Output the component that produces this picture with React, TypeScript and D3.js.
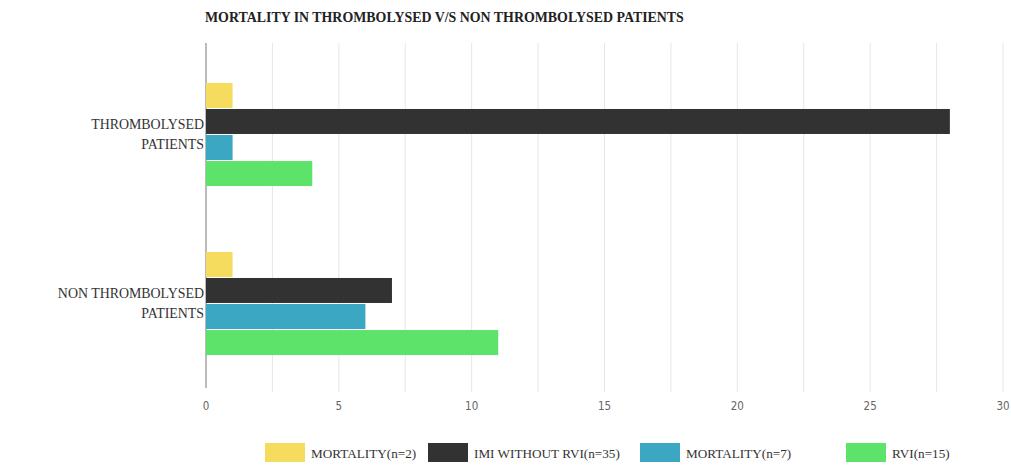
import React from "react";
import * as d3 from "d3";

const categories = ["THROMBOLYSED PATIENTS", "NON THROMBOLYSED PATIENTS"];
const categoryLines = [["THROMBOLYSED", "PATIENTS"], ["NON THROMBOLYSED", "PATIENTS"]];
const seriesNames = ["MORTALITY(n=2)", "IMI WITHOUT RVI(n=35)", "MORTALITY(n=7)", "RVI(n=15)"];
const seriesColors = ["#f6dc5e", "#323232", "#3ba7c3", "#5de26a"];
const mortalityN2 = [1, 1];
const imiWithoutRvi = [28, 7];
const mortalityN7 = [1, 6];
const rvi = [4, 11];
const seriesValues = [mortalityN2, imiWithoutRvi, mortalityN7, rvi];
const xTicks = [0, 5, 10, 15, 20, 25, 30];
const gridTicks = [0, 2.5, 5, 7.5, 10, 12.5, 15, 17.5, 20, 22.5, 25, 27.5, 30];
const title = "MORTALITY IN THROMBOLYSED V/S NON THROMBOLYSED PATIENTS";

export default function App() {
  const W = 1011, H = 466;
  const left = 206, right = 1003, top = 50, bottom = 388;
  const x = d3.scaleLinear().domain([0, 30]).range([left, right]);
  const y = d3.scaleBand<string>().domain(categories).range([top, bottom]).paddingInner(0.39).paddingOuter(0.195);
  const inner = d3.scaleBand<number>().domain([0, 1, 2, 3]).range([0, y.bandwidth()]).paddingInner(0.04);
  const serif = "'Liberation Serif', 'DejaVu Serif', serif";
  const legendX = [265, 428, 640, 846];
  return (
    <svg width={W} height={H} style={{ position: "absolute", left: 0, top: 0, background: "#fff" }}>
      <text x={205} y={17} dominantBaseline="central" fontFamily={serif} fontWeight="bold" fontSize={13.9} fill="#222">{title}</text>
      {gridTicks.map((t) => (
        <line key={t} x1={x(t)} x2={x(t)} y1={43} y2={t === 0 ? bottom : 392} stroke={t === 0 ? "#bbb" : "#e6e6e6"} strokeWidth={t === 0 ? 2 : 1} />
      ))}
      {categories.map((c, ci) =>
        seriesValues.map((vals, si) => (
          <rect key={c + si} x={x(0)} y={(y(c) as number) + (inner(si) as number)} width={x(vals[ci]) - x(0)} height={inner.bandwidth()} fill={seriesColors[si]} />
        ))
      )}
      {categories.map((c, ci) => {
        const cy = (y(c) as number) + y.bandwidth() / 2;
        return categoryLines[ci].map((ln, li) => (
          <text key={c + li} x={204} y={cy - 10 + li * 20} textAnchor="end" dominantBaseline="central" fontFamily={serif} fontSize={13.9} fill="#333">{ln}</text>
        ));
      })}
      {xTicks.map((t) => (
        <text key={t} x={x(t)} y={406} textAnchor="middle" dominantBaseline="central" fontFamily="'Liberation Sans Narrow', 'DejaVu Sans Condensed', sans-serif" fontSize={11.5} fill="#666">{t}</text>
      ))}
      {seriesNames.map((n, i) => (
        <g key={n}>
          <rect x={legendX[i]} y={443} width={40} height={19} fill={seriesColors[i]} />
          <text x={legendX[i] + 46} y={453} dominantBaseline="central" fontFamily={serif} fontSize={13.2} fill="#333">{n}</text>
        </g>
      ))}
    </svg>
  );
}
